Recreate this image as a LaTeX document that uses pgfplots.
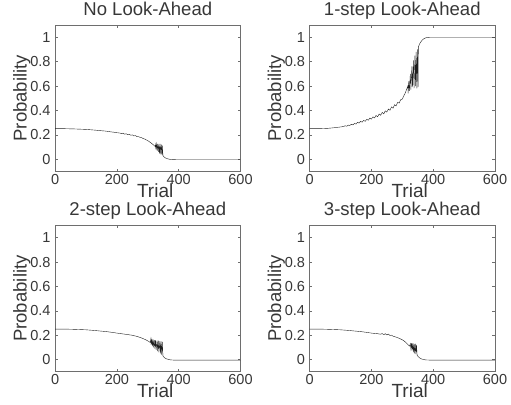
\documentclass[border=0pt]{standalone}
\usepackage{fontspec}
\setmainfont{Liberation Sans}
\usepackage{pgfplots}
\pgfplotsset{compat=1.18}
\usepgfplotslibrary{groupplots}

\definecolor{axisgray}{RGB}{110,110,110}
\definecolor{txtgray}{RGB}{55,55,55}
\definecolor{curve}{RGB}{30,30,30}

\begin{document}
\begin{tikzpicture}
\begin{groupplot}[
  group style={group size=2 by 2, horizontal sep=69pt, vertical sep=54pt},
  width=185pt, height=146pt, scale only axis,
  xmin=0, xmax=600, ymin=-0.1, ymax=1.1,
  xtick={0,200,400,600},
  ytick={0,0.2,0.4,0.6,0.8,1},
  yticklabels={0,0.2,0.4,0.6,0.8,1},
  /pgf/number format/assume math mode=true,
  tick align=inside, major tick length=2.5pt,
  axis line style={axisgray, line width=0.6pt},
  every tick/.style={axisgray, line width=0.5pt},
  tick label style={font=\fontsize{14.5}{15}\selectfont, text=txtgray},
  xticklabel style={yshift=1pt},
  yticklabel style={xshift=-1pt},
  xlabel={Trial}, ylabel={Probability},
  xlabel style={at={(axis description cs:0.54,-0.13)}, anchor=center,
    font=\fontsize{19}{20}\selectfont, text=txtgray},
  ylabel style={at={(axis description cs:-0.18,0.5)}, anchor=center, rotate=0,
    font=\fontsize{18.5}{19}\selectfont, text=txtgray},
  title style={at={(axis description cs:0.5,1)}, anchor=base, yshift=4pt,
    font=\fontsize{18.5}{19}\selectfont, text=txtgray},
  cycle list={{curve, line width=0.9pt, mark=none}},
]
% No look-ahead
\nextgroupplot[title={No Look-Ahead}]
\addplot coordinates {
(0,0.250) (30,0.250) (60,0.248) (100,0.244) (130,0.238) (150,0.233)
(160,0.231) (170,0.228) (180,0.224) (190,0.221) (200,0.217) (210,0.214)
(215,0.209) (220,0.213) (225,0.205) (230,0.208) (235,0.201) (240,0.204)
(245,0.196) (250,0.199) (255,0.191) (260,0.193) (265,0.185) (270,0.186)
(275,0.178) (280,0.176) (285,0.169) (290,0.165) (295,0.158) (300,0.152)
(305,0.143) (310,0.134) (315,0.124) (320,0.113) (324,0.104)
(325,0.120) (326,0.080) (328,0.125) (330,0.070) (332,0.125) (334,0.060)
(336,0.125) (338,0.045) (340,0.125) (342,0.040) (344,0.120) (346,0.035)
(347,0.110) (349,0.030) (352,0.020) (356,0.012) (360,0.006) (366,0.002)
(372,-0.002) (380,-0.004) (400,-0.005) (600,-0.005)
};
% 1-step look-ahead
\nextgroupplot[title={1-step Look-Ahead}]
\addplot coordinates {
(0,0.250) (30,0.250) (60,0.253) (80,0.258) (100,0.264) (110,0.268)
(115,0.274) (120,0.270) (125,0.279) (130,0.276) (135,0.286) (140,0.281)
(145,0.293) (150,0.288) (155,0.302) (160,0.296) (165,0.310) (170,0.303)
(175,0.318) (180,0.310) (185,0.327) (190,0.319) (195,0.337) (200,0.328)
(205,0.347) (210,0.338) (215,0.358) (220,0.348) (225,0.370) (230,0.360)
(235,0.383) (240,0.372) (245,0.396) (250,0.386) (255,0.411) (260,0.401)
(265,0.428) (270,0.418) (275,0.446) (280,0.437) (285,0.466) (290,0.460)
(295,0.489) (300,0.492) (305,0.520) (310,0.545) (315,0.580)
(318,0.600) (319,0.540) (321,0.640) (323,0.560) (326,0.700) (328,0.570)
(331,0.760) (333,0.590) (336,0.810) (338,0.580) (341,0.850) (343,0.600)
(345,0.880) (347,0.580) (349,0.900) (351,0.590) (352,0.920)
(356,0.945) (360,0.962) (365,0.978) (370,0.988) (375,0.994) (380,0.998)
(390,1.000) (600,1.000)
};
% 2-step look-ahead
\nextgroupplot[title={2-step Look-Ahead}]
\addplot coordinates {
(0,0.250) (30,0.250) (60,0.248) (100,0.244) (130,0.238) (150,0.233)
(170,0.228) (190,0.221) (200,0.217) (220,0.210) (240,0.203) (250,0.199)
(260,0.193) (270,0.186) (280,0.177) (290,0.166) (295,0.160) (300,0.153)
(305,0.145) (308,0.140) (310,0.170) (311,0.120) (313,0.170) (315,0.110)
(317,0.165) (319,0.100) (321,0.160) (323,0.090) (325,0.160) (327,0.080)
(330,0.155) (332,0.070) (334,0.155) (336,0.060) (339,0.150) (341,0.050)
(343,0.150) (345,0.040) (347,0.145) (349,0.030) (352,0.020) (356,0.012)
(360,0.006) (366,0.002) (372,-0.002) (380,-0.004) (400,-0.005) (600,-0.005)
};
% 3-step look-ahead
\nextgroupplot[title={3-step Look-Ahead}]
\addplot coordinates {
(0,0.250) (30,0.250) (60,0.248) (100,0.244) (130,0.238) (150,0.233)
(170,0.228) (190,0.221) (200,0.217) (220,0.212) (230,0.208) (235,0.213)
(240,0.204) (245,0.212) (250,0.202) (255,0.209) (260,0.198) (265,0.200)
(270,0.192) (280,0.184) (290,0.174) (300,0.162) (305,0.154) (310,0.144)
(315,0.132) (320,0.118) (324,0.110) (326,0.130) (328,0.085) (330,0.135)
(332,0.075) (334,0.135) (336,0.060) (338,0.130) (340,0.050) (342,0.130)
(344,0.045) (346,0.120) (348,0.035) (350,0.028) (354,0.018) (358,0.010)
(362,0.005) (368,0.001) (375,-0.003) (385,-0.004) (400,-0.005) (600,-0.005)
};
\end{groupplot}
\pgfresetboundingbox
\path[use as bounding box] ([xshift=-55pt,yshift=25pt]group c1r1.north west)
  rectangle ([xshift=16pt,yshift=-33pt]group c2r2.south east);
\end{tikzpicture}
\end{document}
